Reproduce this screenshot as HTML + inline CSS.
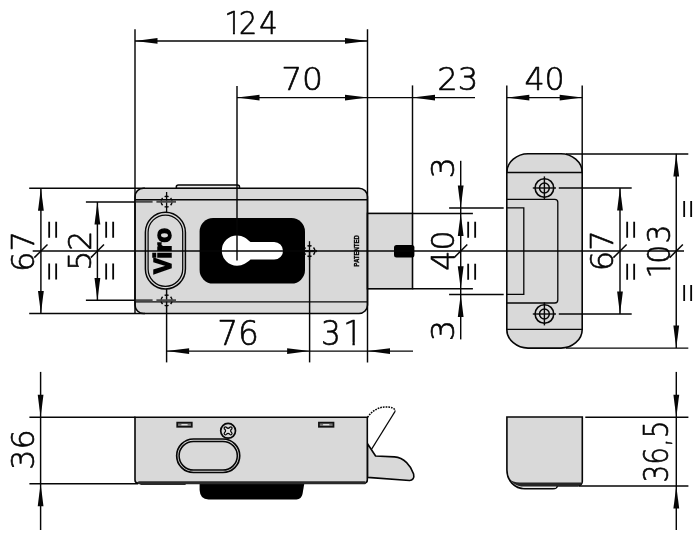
<!DOCTYPE html>
<html lang="en">
<head>
<meta charset="utf-8">
<title>Viro</title>
<style>
html,body{margin:0;padding:0;background:#fff;}
body{width:700px;height:544px;overflow:hidden;}
svg{display:block;}
</style>
</head>
<body>
<svg style="will-change:transform" width="700" height="544" viewBox="0 0 700 544">
<rect x="0" y="0" width="700" height="544" fill="#fff"/>
<g fill="none" stroke="#060606" stroke-linecap="butt">
<path d="M176.3,188.4 V187 a2.1,2.1 0 0,1 2.1,-2.1 H237.4 a2.1,2.1 0 0,1 2.1,2.1 V188.4 Z" fill="#f0f0f0" stroke-width="1.5"/>
<rect x="135.0" y="188.2" width="232.5" height="125.30000000000001" rx="8.5" fill="#d9d9d9" stroke-width="1.6"/>
<line x1="135.0" y1="199.7" x2="367.5" y2="199.7" stroke-width="1.4"/>
<line x1="135.0" y1="301.9" x2="367.5" y2="301.9" stroke-width="1.4"/>
<rect x="367.5" y="213.4" width="45.0" height="75.4" fill="#d9d9d9" stroke-width="1.6"/>
<rect x="394" y="245" width="20.4" height="12.4" rx="2.5" fill="#000" stroke="none"/>
<rect x="145.4" y="212.3" width="40" height="76.7" rx="20" stroke-width="1.5"/>
<rect x="148.1" y="215" width="34.6" height="71.3" rx="17.3" stroke-width="1.25"/>
<text transform="translate(170.6,251.0) rotate(-90)" font-family="'Liberation Sans','DejaVu Sans',sans-serif" font-weight="bold" font-size="23.5" letter-spacing="0.1" text-anchor="middle" fill="#000" stroke="#000" stroke-width="1.55" stroke-linejoin="miter" stroke-miterlimit="3">Viro</text>
<rect x="199.6" y="218" width="105.4" height="65.6" rx="13.5" fill="#000" stroke="none"/>
<path d="M237,235.4 a15.2,15.2 0 1,0 0,30.4 c6,0 10,-3 13.5,-6.2 h23.7 a8.8,8.8 0 0,0 0,-17.6 h-23.7 c-3.5,-3.2 -7.5,-6.6 -13.5,-6.6 Z" fill="#fff" stroke="none"/>
<text transform="translate(358.8,250.9) rotate(-90)" font-family="'Liberation Sans','DejaVu Sans',sans-serif" font-weight="bold" font-size="6.6" text-anchor="middle" textLength="31.5" lengthAdjust="spacingAndGlyphs" fill="#000" stroke="#000" stroke-width="0.35">PATENTED</text>
<path d="M170.61,197.99 A5.4,5.4 0 0,1 170.61,205.21 M162.59,205.21 A5.4,5.4 0 0,1 162.59,197.99 M168.62,206.61 A5.4,5.4 0 0,1 164.58,206.61 M164.58,196.59 A5.4,5.4 0 0,1 168.62,196.59" stroke-width="1.5"/>
<path d="M170.61,296.79 A5.4,5.4 0 0,1 170.61,304.01 M162.59,304.01 A5.4,5.4 0 0,1 162.59,296.79 M168.62,305.41 A5.4,5.4 0 0,1 164.58,305.41 M164.58,295.39 A5.4,5.4 0 0,1 168.62,295.39" stroke-width="1.5"/>
<path d="M313.51,247.44 A5.4,5.4 0 0,1 313.51,254.66 M305.49,254.66 A5.4,5.4 0 0,1 305.49,247.44 M311.52,256.06 A5.4,5.4 0 0,1 307.48,256.06 M307.48,246.04 A5.4,5.4 0 0,1 311.52,246.04" stroke-width="1.5"/>
<line x1="166.6" y1="192" x2="166.6" y2="212.3" stroke-width="1.3"/>
<line x1="166.6" y1="289" x2="166.6" y2="362.4" stroke-width="1.45"/>
<line x1="309.5" y1="241.2" x2="309.5" y2="260" stroke-width="1.3"/>
<line x1="135.0" y1="201.6" x2="152.6" y2="201.6" stroke-width="2.3" stroke="#4a4a4a"/>
<line x1="156.4" y1="201.6" x2="176" y2="201.6" stroke-width="2.3" stroke="#4a4a4a"/>
<line x1="135.0" y1="300.4" x2="152.6" y2="300.4" stroke-width="2.3" stroke="#4a4a4a"/>
<line x1="156.4" y1="300.4" x2="176" y2="300.4" stroke-width="2.3" stroke="#4a4a4a"/>
<line x1="305" y1="251.05" x2="317" y2="251.05" stroke-width="2.2" stroke="#222"/>
<path d="M506.8,172.5 C506.8,162 517,153.8 528,153.8 L561,153.8 C572,153.8 582.2,162 582.2,172.5 L582.2,329.4 C582.2,340 572,348.1 561,348.1 L528,348.1 C517,348.1 506.8,340 506.8,329.4 Z" fill="#d9d9d9" stroke-width="1.6"/>
<line x1="506.8" y1="172.5" x2="582.2" y2="172.5" stroke-width="1.3"/>
<line x1="506.8" y1="329.4" x2="582.2" y2="329.4" stroke-width="1.3"/>
<path d="M506.8,199.3 H554.8 a3,3 0 0,1 3,3 V300 a3,3 0 0,1 -3,3 H506.8" stroke-width="1.3"/>
<path d="M506.8,207.9 H523.8 V294.4 H506.8" stroke-width="1.3"/>
<circle cx="544.4" cy="188" r="9.3" stroke-width="1.6"/>
<circle cx="544.4" cy="188" r="4.9" stroke-width="1.5"/>
<line x1="532.8" y1="188" x2="556.0" y2="188" stroke-width="1.4"/>
<line x1="544.4" y1="176.4" x2="544.4" y2="199.4" stroke-width="1.4"/>
<circle cx="544.4" cy="314" r="9.3" stroke-width="1.6"/>
<circle cx="544.4" cy="314" r="4.9" stroke-width="1.5"/>
<line x1="532.8" y1="314" x2="556.0" y2="314" stroke-width="1.4"/>
<line x1="544.4" y1="302.4" x2="544.4" y2="325.4" stroke-width="1.4"/>
<line x1="32.7" y1="251.05" x2="684" y2="251.05" stroke-width="1.45"/>
<line x1="237" y1="86" x2="237" y2="260.4" stroke-width="1.45"/>
<line x1="135.0" y1="29.3" x2="135.0" y2="313.5" stroke-width="1.45"/>
<line x1="367.5" y1="29.3" x2="367.5" y2="362.4" stroke-width="1.45"/>
<line x1="135.0" y1="40.9" x2="367.5" y2="40.9" stroke-width="1.45"/>
<polygon points="135.0,40.9 157.5,38.0 157.5,43.8" fill="#060606" stroke="none"/>
<polygon points="367.5,40.9 345.0,38.0 345.0,43.8" fill="#060606" stroke="none"/>
<line x1="237" y1="97.6" x2="475" y2="97.6" stroke-width="1.45"/>
<polygon points="237,97.6 259.5,94.69999999999999 259.5,100.5" fill="#060606" stroke="none"/>
<polygon points="367.5,97.6 345.0,94.69999999999999 345.0,100.5" fill="#060606" stroke="none"/>
<polygon points="412.5,97.6 435.0,94.69999999999999 435.0,100.5" fill="#060606" stroke="none"/>
<line x1="412.5" y1="85.4" x2="412.5" y2="213.4" stroke-width="1.45"/>
<line x1="506.8" y1="85.4" x2="506.8" y2="172" stroke-width="1.45"/>
<line x1="582.2" y1="85.4" x2="582.2" y2="172" stroke-width="1.45"/>
<line x1="506.8" y1="97.6" x2="582.2" y2="97.6" stroke-width="1.45"/>
<polygon points="506.8,97.6 529.3,94.69999999999999 529.3,100.5" fill="#060606" stroke="none"/>
<polygon points="582.2,97.6 559.7,94.69999999999999 559.7,100.5" fill="#060606" stroke="none"/>
<line x1="29.2" y1="188.2" x2="145" y2="188.2" stroke-width="1.45"/>
<line x1="29.2" y1="313.5" x2="145" y2="313.5" stroke-width="1.45"/>
<line x1="40.9" y1="188.2" x2="40.9" y2="313.5" stroke-width="1.45"/>
<polygon points="40.9,188.2 38.0,210.7 43.8,210.7" fill="#060606" stroke="none"/>
<polygon points="40.9,313.5 38.0,291.0 43.8,291.0" fill="#060606" stroke="none"/>
<line x1="34.3" y1="257.65000000000003" x2="47.5" y2="244.45000000000002" stroke-width="1.5"/>
<line x1="85.9" y1="202.0" x2="135.0" y2="202.0" stroke-width="1.45"/>
<line x1="85.9" y1="300.3" x2="135.0" y2="300.3" stroke-width="1.45"/>
<line x1="97.4" y1="202.0" x2="97.4" y2="300.4" stroke-width="1.45"/>
<polygon points="97.4,202.0 94.5,224.5 100.30000000000001,224.5" fill="#060606" stroke="none"/>
<polygon points="97.4,300.4 94.5,277.9 100.30000000000001,277.9" fill="#060606" stroke="none"/>
<line x1="90.80000000000001" y1="257.65000000000003" x2="104.0" y2="244.45000000000002" stroke-width="1.5"/>
<line x1="460.7" y1="160.8" x2="460.7" y2="339.4" stroke-width="1.45"/>
<polygon points="460.7,207.9 457.8,185.4 463.59999999999997,185.4" fill="#060606" stroke="none"/>
<polygon points="460.7,213.4 457.8,235.9 463.59999999999997,235.9" fill="#060606" stroke="none"/>
<polygon points="460.7,288.8 457.8,266.3 463.59999999999997,266.3" fill="#060606" stroke="none"/>
<polygon points="460.7,294.4 457.8,316.9 463.59999999999997,316.9" fill="#060606" stroke="none"/>
<line x1="449.1" y1="207.9" x2="503.7" y2="207.9" stroke-width="1.45"/>
<line x1="449.1" y1="294.4" x2="503.7" y2="294.4" stroke-width="1.45"/>
<line x1="412.5" y1="213.4" x2="472.9" y2="213.4" stroke-width="1.45"/>
<line x1="412.5" y1="288.8" x2="472.9" y2="288.8" stroke-width="1.45"/>
<line x1="454.09999999999997" y1="257.65000000000003" x2="467.3" y2="244.45000000000002" stroke-width="1.5"/>
<line x1="566" y1="154.0" x2="688.3" y2="154.0" stroke-width="1.45"/>
<line x1="566" y1="348.1" x2="688.3" y2="348.1" stroke-width="1.45"/>
<line x1="676.25" y1="153.8" x2="676.25" y2="348.1" stroke-width="1.45"/>
<polygon points="676.25,154.0 673.35,176.5 679.15,176.5" fill="#060606" stroke="none"/>
<polygon points="676.25,348.1 673.35,325.6 679.15,325.6" fill="#060606" stroke="none"/>
<line x1="669.65" y1="257.65000000000003" x2="682.85" y2="244.45000000000002" stroke-width="1.5"/>
<line x1="558.8" y1="188" x2="631.7" y2="188" stroke-width="1.45"/>
<line x1="558.8" y1="314" x2="631.7" y2="314" stroke-width="1.45"/>
<line x1="620" y1="188" x2="620" y2="314" stroke-width="1.45"/>
<polygon points="620,188 617.1,210.5 622.9,210.5" fill="#060606" stroke="none"/>
<polygon points="620,314 617.1,291.5 622.9,291.5" fill="#060606" stroke="none"/>
<line x1="613.4" y1="257.65000000000003" x2="626.6" y2="244.45000000000002" stroke-width="1.5"/>
<line x1="309.6" y1="251.05" x2="309.6" y2="362.4" stroke-width="1.45"/>
<line x1="166.6" y1="351.1" x2="413" y2="351.1" stroke-width="1.45"/>
<polygon points="166.6,351.1 189.1,348.20000000000005 189.1,354.0" fill="#060606" stroke="none"/>
<polygon points="309.6,351.1 287.1,348.20000000000005 287.1,354.0" fill="#060606" stroke="none"/>
<polygon points="367.5,351.1 390.0,348.20000000000005 390.0,354.0" fill="#060606" stroke="none"/>
<path d="M199.6,482.5 V490 Q200,499.4 208.5,499.4 H296.5 Q301.4,499.4 302.5,494 L304.5,482.5 Z" fill="#000" stroke="none"/>
<path d="M367.5,417.3 C372,411 378,407.2 385,407 C391,406.8 395.5,408 395,411.5" stroke-width="1.5" stroke-dasharray="1.7 1.0"/>
<line x1="395" y1="411.5" x2="368.6" y2="454" stroke-width="1.35"/>
<path d="M367.5,443.7 L375.6,456 L394.5,456.9 C404,457.5 411,466 413.6,474 C414.6,478 412.5,480.6 409.5,480.5 L367.5,477.4 Z" fill="#d9d9d9" stroke-width="1.6" stroke-linejoin="round"/>
<path d="M135,417.3 H367.3 V480 a3,3 0 0,1 -3,3 H138 a3,3 0 0,1 -3,-3 Z" fill="#d9d9d9" stroke-width="1.6"/>
<line x1="139" y1="482.8" x2="364.6" y2="482.8" stroke-width="3.0" stroke="#2a2a2a" stroke-linecap="round"/>
<line x1="141" y1="484.2" x2="185" y2="484.2" stroke-width="1.6" stroke="#2a2a2a" stroke-linecap="round"/>
<rect x="177.2" y="422.6" width="14.6" height="4.2" fill="#777" stroke="#111" stroke-width="1.7"/>
<line x1="181.39999999999998" y1="424.7" x2="187.6" y2="424.7" stroke-width="1.1" stroke="#f4f4f4"/>
<rect x="318.9" y="422.6" width="14.6" height="4.2" fill="#777" stroke="#111" stroke-width="1.7"/>
<line x1="323.09999999999997" y1="424.7" x2="329.29999999999995" y2="424.7" stroke-width="1.1" stroke="#f4f4f4"/>
<rect x="176.7" y="439" width="63" height="33.5" rx="16.75" stroke-width="1.7"/>
<rect x="179.1" y="441.4" width="58.2" height="28.7" rx="14.35" stroke-width="1.5"/>
<circle cx="228.1" cy="430.8" r="7.4" stroke-width="1.7"/>
<path transform="translate(228.1,430.8)" d="M3.54,1.77 A1.25,1.25 0 0,1 1.77,3.54 Q0.00,1.50 -1.77,3.54 A1.25,1.25 0 0,1 -3.54,1.77 Q-1.50,0.00 -3.54,-1.77 A1.25,1.25 0 0,1 -1.77,-3.54 Q-0.00,-1.50 1.77,-3.54 A1.25,1.25 0 0,1 3.54,-1.77 Q1.50,-0.00 3.54,1.77 Z" fill="#e4e4e4" stroke-width="1.2" stroke-linejoin="round"/>
<line x1="29.4" y1="417.2" x2="135.5" y2="417.2" stroke-width="1.45"/>
<line x1="29.4" y1="483.7" x2="138" y2="483.7" stroke-width="1.45"/>
<line x1="40.6" y1="371.9" x2="40.6" y2="530" stroke-width="1.45"/>
<polygon points="40.6,417.2 37.7,394.7 43.5,394.7" fill="#060606" stroke="none"/>
<polygon points="40.6,483.7 37.7,506.2 43.5,506.2" fill="#060606" stroke="none"/>
<path d="M506.9,417 H582.3 V481.6 a4,4 0 0,1 -4,4 H557.7 C557.2,487.6 555.8,488.7 553,488.7 H525 C514,488.7 506.9,480 506.9,470 Z" fill="#d9d9d9" stroke-width="1.6"/>
<path d="M522.5,487.1 H556" stroke="#efefef" stroke-width="1.1"/>
<path d="M510.6,480.2 C514.5,482.2 518,482.5 523,482.5 H581.4 C581,484.6 579.8,486.2 578,486.5 H521.5 C517,486 513,483.8 510.6,480.2 Z" fill="#262626" stroke="none"/>
<line x1="585.3" y1="417.2" x2="688.4" y2="417.2" stroke-width="1.45"/>
<line x1="579" y1="485.9" x2="688.4" y2="485.9" stroke-width="1.45"/>
<line x1="676.3" y1="371.9" x2="676.3" y2="530" stroke-width="1.45"/>
<polygon points="676.3,417.2 673.4,394.7 679.1999999999999,394.7" fill="#060606" stroke="none"/>
<polygon points="676.3,485.9 673.4,508.4 679.1999999999999,508.4" fill="#060606" stroke="none"/>
</g>
<g fill="#060606" stroke="#060606" stroke-width="0.65" stroke-linejoin="round" font-family="'DejaVu Sans','Liberation Sans',sans-serif" font-weight="200">
<text transform="translate(250.1,34.0) scale(0.9,1)" font-size="32.3" text-anchor="middle" dx="1.0 -4.4 2.3">124</text>
<text transform="translate(302.1,90.2) scale(1.02,1)" font-size="32.3" text-anchor="middle">70</text>
<text transform="translate(457.8,90.2) scale(1.0,1)" font-size="32.3" text-anchor="middle">23</text>
<text transform="translate(544.6,90.2) scale(0.98,1)" font-size="32.3" text-anchor="middle">40</text>
<text transform="translate(238,344.7) scale(1.0,1)" font-size="32.8" text-anchor="middle">76</text>
<text transform="translate(342.0,344.7) scale(0.95,1)" font-size="32.8" text-anchor="middle" dx="0 2.5">31</text>
<text transform="translate(34,251.5) rotate(-90) scale(1.0,1)" font-size="32.3" text-anchor="middle">67</text>
<text transform="translate(91,250.7) rotate(-90) scale(0.98,1)" font-size="32.3" text-anchor="middle">52</text>
<text transform="translate(454.2,250.5) rotate(-90) scale(0.98,1)" font-size="32.3" text-anchor="middle">40</text>
<text transform="translate(613.2,250.7) rotate(-90) scale(1.0,1)" font-size="32.3" text-anchor="middle">67</text>
<text transform="translate(670.3,253.0) rotate(-90) scale(0.925,1)" font-size="32.3" text-anchor="middle" dx="1.65 -4.55 1.3">103</text>
<text transform="translate(454.4,167.8) rotate(-90) scale(1.05,1)" font-size="32.3" text-anchor="middle">3</text>
<text transform="translate(454.4,330.4) rotate(-90) scale(1.05,1)" font-size="32.3" text-anchor="middle">3</text>
<text transform="translate(34.4,449.5) rotate(-90) scale(0.98,1)" font-size="32.3" text-anchor="middle">36</text>
<text transform="translate(667.7,451.5) rotate(-90) scale(0.815,1)" font-size="34.3" text-anchor="middle">36,5</text>
<rect class="cv" x="227.3" y="31.4" width="5.65" height="4.2" fill="#fff" stroke="none"/>
<rect class="cv" x="234.9" y="31.4" width="5.45" height="4.2" fill="#fff" stroke="none"/>
<rect class="cv" x="346.3" y="342.4" width="6.15" height="4.4" fill="#fff" stroke="none"/>
<rect class="cv" x="354.8" y="342.4" width="6.0" height="4.4" fill="#fff" stroke="none"/>
<rect class="cv" x="667.4" y="261.4" width="4.4" height="5.9" fill="#fff" stroke="none"/>
<rect class="cv" x="667.4" y="269.65" width="4.4" height="5.55" fill="#fff" stroke="none"/>
<text transform="translate(65.85,229.7) rotate(-90) scale(0.608,1)" font-size="42" stroke-width="0.15" text-anchor="middle">=</text>
<text transform="translate(65.85,271.5) rotate(-90) scale(0.608,1)" font-size="42" stroke-width="0.15" text-anchor="middle">=</text>
<text transform="translate(122.55,229.7) rotate(-90) scale(0.608,1)" font-size="42" stroke-width="0.15" text-anchor="middle">=</text>
<text transform="translate(122.55,271.5) rotate(-90) scale(0.608,1)" font-size="42" stroke-width="0.15" text-anchor="middle">=</text>
<text transform="translate(484.85,229.9) rotate(-90) scale(0.608,1)" font-size="42" stroke-width="0.15" text-anchor="middle">=</text>
<text transform="translate(484.85,271.8) rotate(-90) scale(0.608,1)" font-size="42" stroke-width="0.15" text-anchor="middle">=</text>
<text transform="translate(644.45,229.8) rotate(-90) scale(0.608,1)" font-size="42" stroke-width="0.15" text-anchor="middle">=</text>
<text transform="translate(644.45,271.7) rotate(-90) scale(0.608,1)" font-size="42" stroke-width="0.15" text-anchor="middle">=</text>
<text transform="translate(700.85,209) rotate(-90) scale(0.608,1)" font-size="42" stroke-width="0.15" text-anchor="middle">=</text>
<text transform="translate(700.85,293) rotate(-90) scale(0.608,1)" font-size="42" stroke-width="0.15" text-anchor="middle">=</text>
</g>
</svg>
</body>
</html>
